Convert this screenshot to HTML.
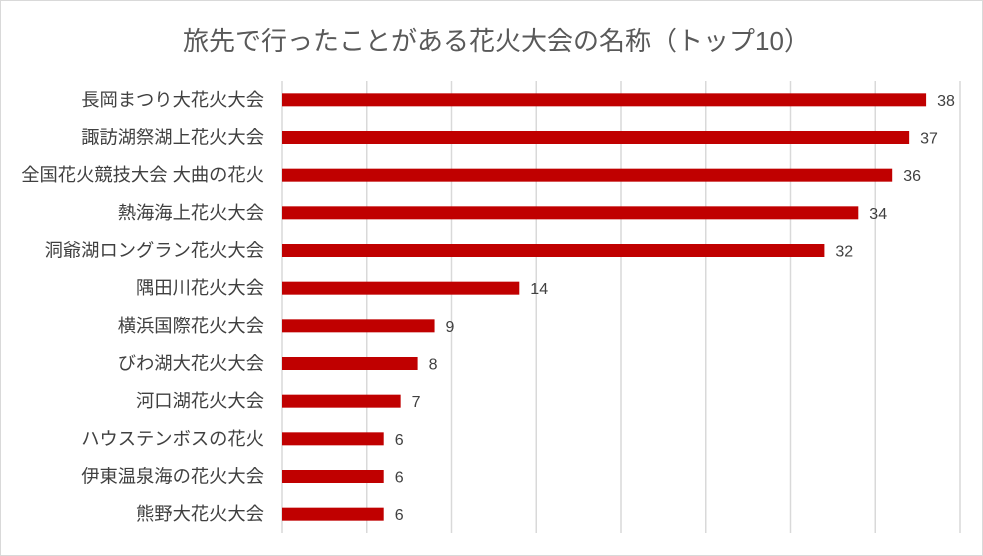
<!DOCTYPE html>
<html><head><meta charset="utf-8"><style>
body{margin:0;background:#fff}
#c{position:relative;width:983px;height:556px;box-sizing:border-box;border:1px solid #d9d9d9;font-family:"Liberation Sans","Noto Sans CJK JP",sans-serif;overflow:hidden}
.t{position:absolute;left:4px;width:983px;top:20px;text-align:center;font-size:26px;color:#595959}
</style></head><body>
<div id="c">
<div class="t">旅先で行ったことがある花火大会の名称（トップ10）</div>
<svg id="s" width="983" height="556" style="position:absolute;left:0;top:0"></svg>
</div>
<script>
const categories=["長岡まつり大花火大会","諏訪湖祭湖上花火大会","全国花火競技大会 大曲の花火","熱海海上花火大会","洞爺湖ロングラン花火大会","隅田川花火大会","横浜国際花火大会","びわ湖大花火大会","河口湖花火大会","ハウステンボスの花火","伊東温泉海の花火大会","熊野大花火大会"];
const values=[38,37,36,34,32,14,9,8,7,6,6,6];
const ticks=[0,5,10,15,20,25,30,35,40];
const NS="http://www.w3.org/2000/svg",svg=document.getElementById('s');
const x0=281,x1=959,y0=80,y1=532,max=40;
const X=v=>x0+(v/max)*(x1-x0);
const band=(y1-y0)/categories.length;
const Y=i=>y0+band*(i+0.5);
function mk(t,a){const e=document.createElementNS(NS,t);for(const k in a)e.setAttribute(k,a[k]);svg.appendChild(e);return e;}
ticks.forEach(t=>{
const g=mk('line',{x1:X(t),x2:X(t),y1:y0,y2:y1,stroke:'#d9d9d9','stroke-width':1.5});


});
categories.forEach((c,i)=>{
const l=mk('text',{x:263,y:Y(i)+6,'text-anchor':'end','font-size':18.3,fill:'#404040'});l.textContent=c;


const b=mk('rect',{x:x0,y:Y(i)-6.5,width:X(values[i])-x0,height:13,fill:'#c00000'});


const v=mk('text',{x:X(values[i])+11,y:Y(i)+6,'font-size':16,fill:'#404040'});v.textContent=values[i];


});
</script>
</body></html>
